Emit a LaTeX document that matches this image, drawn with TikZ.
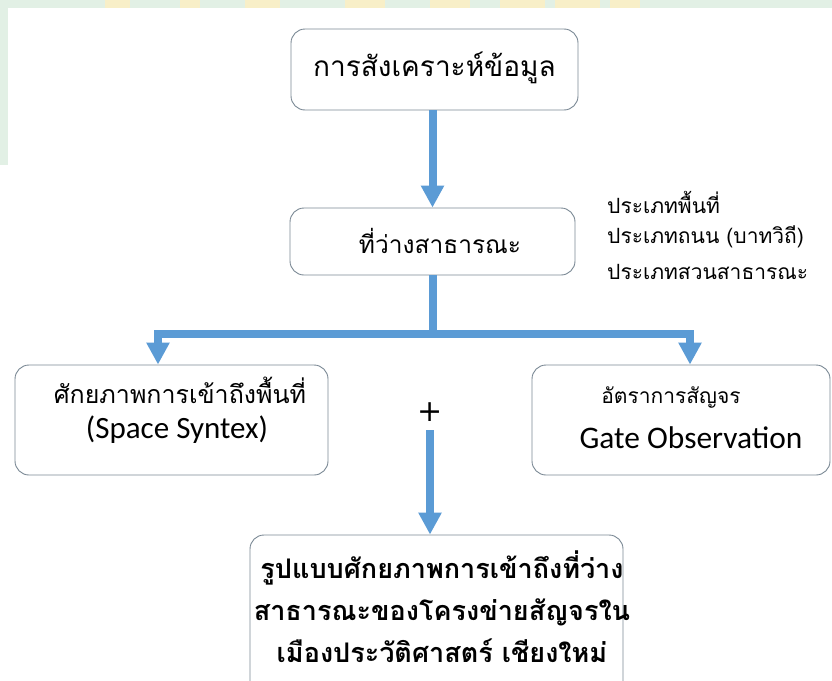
\documentclass[tikz,border=0pt]{standalone}
\usepackage{fontspec}
\setmainfont{Carlito}
\newfontfamily\thai[Script=Thai]{Loma}
\newfontfamily\dejavu{DejaVu Sans}
\usetikzlibrary{arrows.meta}
\definecolor{arrowblue}{HTML}{5B9BD5}
\definecolor{boxgray}{HTML}{7A8894}
\definecolor{wmgreen}{HTML}{E2F0E5}
\definecolor{wmyellow}{HTML}{F8EFC8}
\tikzset{
  box/.style={draw=boxgray, line width=0.9pt, rounded corners=14pt, fill=white, inner sep=0pt},
  txt/.style={align=center, inner sep=0pt},
  bar/.style={draw=arrowblue, line width=8pt},
  arr/.style={bar, -{Triangle[width=22pt,length=22pt]}},
  arrboth/.style={bar, line join=miter, {Triangle[width=22pt,length=22pt]}-{Triangle[width=22pt,length=22pt]}},
  side/.style={anchor=west, font=\thai\fontsize{21}{26}\selectfont, inner sep=0pt}
}
\begin{document}
\begin{tikzpicture}[x=1pt,y=-1pt]
\useasboundingbox (0,0) rectangle (832,680);
% background watermark strips
\fill[wmgreen] (0,0) rectangle (832,8);
\fill[wmgreen] (0,0) rectangle (8,165);
\foreach \a/\b in {105/130,180/200,245/280,345/385,430/470,500/545,555/600,610/640}
  \fill[wmyellow] (\a,0) rectangle (\b,8);
\fill[white] (8,8) rectangle (832,680);

% boxes
\node[box, minimum width=287pt, minimum height=81pt] (top) at (434.5,69.5) {};
\node[txt, font=\thai\fontsize{28}{34}\selectfont] (topT) at (434.5,68) {การสังเคราะห์ข้อมูล};

\node[box, minimum width=285pt, minimum height=67pt] (mid) at (432.5,241.5) {};
\node[txt, font=\thai\fontsize{24.5}{28}\selectfont] (midT) at (440,241) {ที่ว่างสาธารณะ};

\node[box, minimum width=313pt, minimum height=110pt] (left) at (171.5,420) {};
\node[txt, font=\thai\fontsize{25}{35}\selectfont] (leftA) at (180,390) {ศักยภาพการเข้าถึงพื้นที่};
\node[txt, font=\fontsize{31}{35}\selectfont] (leftB) at (177,430) {(Space Syntex)};

\node[box, minimum width=298pt, minimum height=110pt] (right) at (681,420) {};
\node[txt, font=\thai\fontsize{21}{26}\selectfont] (rightA) at (671,397) {อัตราการสัญจร};
\node[txt, font=\fontsize{31.4}{35}\selectfont] (rightB) at (691,438) {Gate Observation};

\node[box, minimum width=373pt, minimum height=160pt] (bot) at (436.5,615) {};
\node[txt, font=\thai\bfseries\fontsize{27}{42}\selectfont] (botT) at (442,607)
  {รูปแบบศักยภาพการเข้าถึงที่ว่าง\\สาธารณะของโครงข่ายสัญจรใน\\เมืองประวัติศาสตร์ เชียงใหม่};

% side list
\node[side] (s1) at (607,202) {ประเภทพื้นที่};
\node[side] (s2) at (607,237) {ประเภทถนน (บาทวิถี)};
\node[side] (s3) at (607,272) {ประเภทสวนสาธารณะ};

% plus
\node[font=\dejavu\fontsize{30}{30}\selectfont, inner sep=0pt] (plus) at (430,412) {+};

% connectors
\coordinate (jl) at (158,334);
\coordinate (jr) at (690,334);
\draw[arr] (top.south -| mid.north) -- (mid.north);
\draw[bar] (mid.south) -- (mid.south |- jl);
\draw[arrboth] (jl |- left.north) -- (jl) -- (jr) -- (jr |- right.north);
\coordinate (ps) at (430,430);
\draw[arr] (ps) -- (ps |- bot.north);
\end{tikzpicture}
\end{document}
